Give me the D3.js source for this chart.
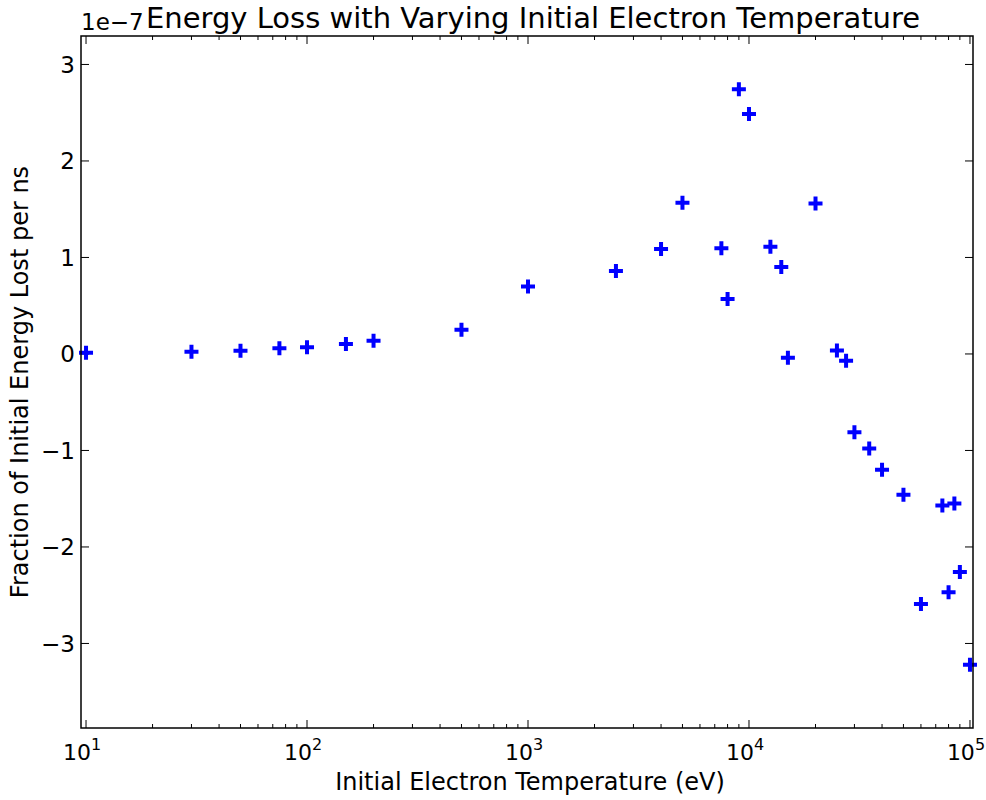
<!DOCTYPE html>
<html>
<head>
<meta charset="utf-8">
<script src="https://cdn.jsdelivr.net/npm/d3@7"></script>
<style>
  body { margin: 0; background: #fff; }
  svg text { font-family: "DejaVu Sans", sans-serif; fill: #000; }
</style>
</head>
<body>
<div id="chart"></div>
<script>
var width = 986;
var height = 800;

// Initial electron temperature (eV)
var temperatures = [10, 30, 50, 75, 100, 150, 200, 500, 1000, 2500, 4000, 5000,
    7500, 8000, 9000, 10000, 12500, 14000, 15000, 20000, 25000, 27500,
    30000, 35000, 40000, 50000, 60000, 75000, 80000, 85000, 90000, 100000];

// Fraction of initial energy lost per ns, in units of 1e-7
var energyLoss = [0.013, 0.024, 0.034, 0.059, 0.069, 0.104, 0.138, 0.25, 0.698, 0.86, 1.088, 1.568,
    1.095, 0.57, 2.743, 2.487, 1.11, 0.90, -0.04, 1.56, 0.035, -0.07,
    -0.81, -0.98, -1.20, -1.46, -2.59, -1.57, -2.47, -1.55, -2.26, -3.22];

var xTicks = [10, 100, 1000, 10000, 100000];
var yTicks = [-3, -2, -1, 0, 1, 2, 3];

var margin = {top: 36, right: 13, bottom: 72, left: 81};
var plotW = width - margin.left - margin.right;
var plotH = height - margin.top - margin.bottom;

var x = d3.scaleLog()
    .domain([9.49, 103200])
    .range([0, plotW]);

var y = d3.scaleLinear()
    .domain([-3.876, 3.295])
    .range([plotH, 0]);

var svg = d3.select("#chart")
    .append("svg")
    .attr("width", width)
    .attr("height", height);

var g = svg.append("g")
    .attr("transform", "translate(" + margin.left + "," + margin.top + ")");

// minor ticks for the log axis (2..9 of each decade)
var minorTicks = [];
[10, 100, 1000, 10000].forEach(function(d) {
    for (var k = 2; k <= 9; k++) minorTicks.push(d * k);
});

// inward pointing ticks on all four sides
function tickLines(sel, data, pos, len, side) {
    var horiz = side === "bottom" || side === "top";
    sel.append("g")
        .selectAll("line")
        .data(data)
        .enter()
        .append("line")
        .attr("stroke", "#000")
        .attr("stroke-width", 1)
        .attr("x1", function(d) { return horiz ? pos(d) : (side === "left" ? 0 : plotW); })
        .attr("x2", function(d) { return horiz ? pos(d) : (side === "left" ? len : plotW - len); })
        .attr("y1", function(d) { return horiz ? (side === "bottom" ? plotH : 0) : pos(d); })
        .attr("y2", function(d) { return horiz ? (side === "bottom" ? plotH - len : len) : pos(d); });
}

var ticks = g.append("g").attr("class", "ticks");
tickLines(ticks, xTicks, x, 8, "bottom");
tickLines(ticks, xTicks, x, 8, "top");
tickLines(ticks, minorTicks, x, 4, "bottom");
tickLines(ticks, minorTicks, x, 4, "top");
tickLines(ticks, yTicks, y, 8, "left");
tickLines(ticks, yTicks, y, 8, "right");

// x tick labels as 10^n
var xLabels = g.append("g")
    .selectAll("text")
    .data(xTicks)
    .enter()
    .append("text")
    .attr("x", function(d) { return x(d) - 4; })
    .attr("y", plotH + 32)
    .attr("text-anchor", "middle")
    .style("font-size", "22px");
xLabels.append("tspan").text("10");
xLabels.append("tspan")
    .attr("dy", -10)
    .style("font-size", "16px")
    .text(function(d) { return Math.round(Math.log10(d)); });

// y tick labels
g.append("g")
    .selectAll("text")
    .data(yTicks)
    .enter()
    .append("text")
    .attr("x", -6)
    .attr("y", function(d) { return y(d); })
    .attr("dy", "0.36em")
    .attr("text-anchor", "end")
    .style("font-size", "23px")
    .text(function(d) { return d < 0 ? "\u2212" + (-d) : d; });

// points as plus markers
var plus = 7;
g.append("g")
    .selectAll("path")
    .data(temperatures.map(function(t, i) { return [t, energyLoss[i]]; }))
    .enter()
    .append("path")
    .attr("fill", "none")
    .attr("stroke", "#0000ff")
    .attr("stroke-width", 4)
    .attr("d", function(d) {
        var px = x(d[0]), py = y(d[1]);
        return "M" + (px - plus) + "," + py + "H" + (px + plus) +
               "M" + px + "," + (py - plus) + "V" + (py + plus);
    });

// frame
g.append("rect")
    .attr("width", plotW)
    .attr("height", plotH)
    .attr("fill", "none")
    .attr("stroke", "#000")
    .attr("stroke-width", 1.5);

// title and offset text
svg.append("text")
    .attr("x", 533)
    .attr("y", 28)
    .attr("text-anchor", "middle")
    .style("font-size", "29px")
    .text("Energy Loss with Varying Initial Electron Temperature");

svg.append("text")
    .attr("x", margin.left)
    .attr("y", 30)
    .style("font-size", "23px")
    .text("1e\u22127");

// axis labels
svg.append("text")
    .attr("x", margin.left + plotW / 2 + 3)
    .attr("y", 790)
    .attr("text-anchor", "middle")
    .style("font-size", "24px")
    .text("Initial Electron Temperature (eV)");

svg.append("text")
    .attr("transform", "translate(28," + (margin.top + plotH / 2) + ") rotate(-90)")
    .attr("text-anchor", "middle")
    .style("font-size", "24px")
    .text("Fraction of Initial Energy Lost per ns");
</script>
</body>
</html>
